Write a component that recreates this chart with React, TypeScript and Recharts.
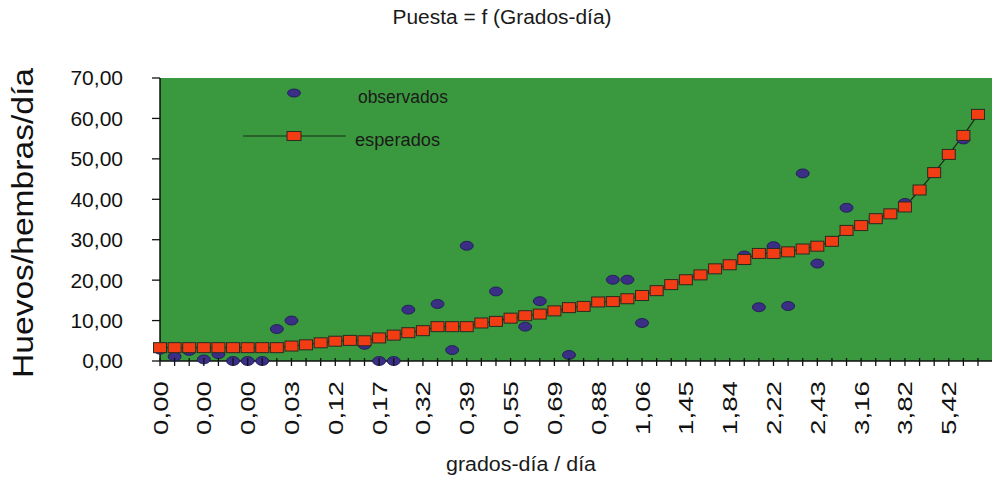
import { CartesianGrid, ComposedChart, Label, Legend, Line, XAxis, YAxis } from "recharts"

// visible tick labels (one every 3 categories)
const xLabels = [
  "0,00", "0,00", "0,00", "0,03", "0,12", "0,17", "0,32", "0,39", "0,55", "0,69",
  "0,88", "1,06", "1,45", "1,84", "2,22", "2,43", "3,16", "3,82", "5,42",
]

const esperados = [
  3.3, 3.3, 3.3, 3.3, 3.3, 3.3, 3.3, 3.3, 3.3, 3.7,
  4.0, 4.5, 4.9, 5.1, 5.0, 5.7, 6.4, 7.0, 7.5, 8.5,
  8.5, 8.5, 9.4, 9.8, 10.6, 11.2, 11.6, 12.4, 13.2, 13.5,
  14.6, 14.7, 15.4, 16.2, 17.4, 18.9, 20.1, 21.3, 22.8, 23.8,
  25.1, 26.6, 26.6, 27.0, 27.7, 28.4, 29.6, 32.3, 33.5, 35.2,
  36.4, 38.1, 42.3, 46.6, 51.1, 55.8, 61.0,
]

const observados = [
  2.8, 1.1, 2.5, 0.4, 1.7, 0, 0, 0, 7.9, 10.0,
  4.0, 4.5, 4.9, 5.1, 4.0, 0, 0, 12.7, 7.5, 14.1,
  2.7, 28.5, 9.4, 17.2, 10.6, 8.5, 14.8, 12.4, 1.5, 13.5,
  14.6, 20.1, 20.1, 9.4, 17.4, 18.9, 20.1, 21.3, 22.8, 23.8,
  26.1, 13.3, 28.4, 13.6, 46.4, 24.1, 29.6, 37.9, 33.5, 35.2,
  36.4, 39.1, 42.3, 46.6, 51.1, 54.8, 61.0,
]

const yTicks = [0, 10, 20, 30, 40, 50, 60, 70]

const data = esperados.map((e, i) => ({ i, esperados: e, observados: observados[i] }))

const FONT = "'Liberation Sans', Arial, Helvetica, sans-serif"
const GREEN = "#3a993e"
const DOT_FILL = "#3b2e85"
const DOT_STROKE = "#1c1650"
const SQ_FILL = "#f23d14"
const SQ_STROKE = "#2b2b20"

const fmt = (v: number) => v.toFixed(2).replace(".", ",")

function XTick(props: any) {
  const { x, y, payload } = props
  const idx = payload.value
  const label = idx % 3 === 0 ? xLabels[idx / 3] : null
  return (
    <g>
      <line x1={x} x2={x} y1={y - 3} y2={y + 5} stroke="#111" strokeWidth={1.3} />
      {label && (
        <text
          transform={`translate(${x + 7.5},${y + 20}) rotate(-90)`}
          textAnchor="end"
          fontSize={21}
          fontFamily={FONT}
          fill="#111"
          textLength={54}
          lengthAdjust="spacingAndGlyphs"
        >
          {label}
        </text>
      )}
    </g>
  )
}

function obsDot(p: any) {
  if (p.cx == null || p.cy == null) return <g key={p.index} />
  return (
    <ellipse key={p.index} cx={p.cx} cy={p.cy} rx={6.5} ry={4.5} fill={DOT_FILL} stroke={DOT_STROKE} strokeWidth={0.8} />
  )
}

function espDot(p: any) {
  if (p.cx == null || p.cy == null) return <g key={p.index} />
  return (
    <rect key={p.index} x={p.cx - 6.5} y={p.cy - 5} width={13} height={10} fill={SQ_FILL} stroke={SQ_STROKE} strokeWidth={1} />
  )
}

function LegendBox() {
  return (
    <svg width={240} height={72} style={{ display: "block" }}>
      <ellipse cx={64} cy={13} rx={6.5} ry={4} fill={DOT_FILL} stroke={DOT_STROKE} strokeWidth={0.8} />
      <text x={128} y={23} fontSize={18} fontFamily={FONT} fill="#1a1a1a" textLength={90} lengthAdjust="spacingAndGlyphs">observados</text>
      <line x1={13} x2={116} y1={56} y2={56} stroke="#1a2a1a" strokeWidth={1} />
      <rect x={57} y={51.5} width={14} height={9} fill={SQ_FILL} stroke={SQ_STROKE} strokeWidth={1} />
      <text x={125} y={66} fontSize={18} fontFamily={FONT} fill="#1a1a1a" textLength={85} lengthAdjust="spacingAndGlyphs">esperados</text>
    </svg>
  )
}

export default function App() {
  return (
    <div style={{ position: "absolute", left: 0, top: 0, width: 995, height: 478, background: "#fff" }}>
      <svg width={995} height={40} style={{ position: "absolute", left: 0, top: 0 }}>
        <text x={502} y={24} textAnchor="middle" fontSize={20} fontFamily={FONT} fill="#1a1a1a" textLength={219} lengthAdjust="spacingAndGlyphs">
          Puesta = f (Grados-día)
        </text>
      </svg>
      <ComposedChart width={995} height={478} data={data} margin={{ top: 78, right: 3, bottom: 0, left: 0 }}>
        <CartesianGrid horizontal={false} vertical={false} fill={GREEN} stroke="none" />
        <XAxis
          dataKey="i"
          type="category"
          scale="point"
          padding={{ left: 0, right: 14 }}
          interval={0}
          height={117}
          tickSize={0}
          tickMargin={0}
          tickLine={false}
          tick={<XTick />}
          axisLine={{ stroke: "#111", strokeWidth: 1.5 }}
        >
          <Label
            content={() => (
              <text x={521} y={471} textAnchor="middle" fontSize={20} fontFamily={FONT} fill="#1a1a1a" textLength={150} lengthAdjust="spacingAndGlyphs">
                grados-día / día
              </text>
            )}
          />
        </XAxis>
        <YAxis
          width={160}
          domain={[0, 70]}
          ticks={yTicks}
          tickFormatter={fmt}
          tickSize={8}
          tickMargin={29}
          tick={{ fontSize: 21, fontFamily: FONT, fill: "#111" }}
          tickLine={{ stroke: "#111", strokeWidth: 1.3 }}
          axisLine={{ stroke: "#111", strokeWidth: 1.5 }}
        >
          <Label
            content={() => (
              <text
                transform="translate(33,223) rotate(-90)"
                textAnchor="middle"
                fontSize={30}
                fontFamily={FONT}
                fill="#111"
                textLength={310}
                lengthAdjust="spacingAndGlyphs"
              >
                Huevos/hembras/día
              </text>
            )}
          />
        </YAxis>
        <Legend
          layout="vertical"
          align="center"
          verticalAlign="middle"
          content={() => <LegendBox />}
          wrapperStyle={{ left: 230, top: 80, width: 240, height: 72 }}
        />
        <Line
          dataKey="observados"
          stroke="none"
          dot={obsDot}
          activeDot={false}
          legendType="none"
          isAnimationActive={false}
        />
        <Line
          dataKey="esperados"
          type="linear"
          stroke="#1a2a1a"
          strokeWidth={1.2}
          dot={espDot}
          activeDot={false}
          isAnimationActive={false}
        />
      </ComposedChart>
    </div>
  )
}
